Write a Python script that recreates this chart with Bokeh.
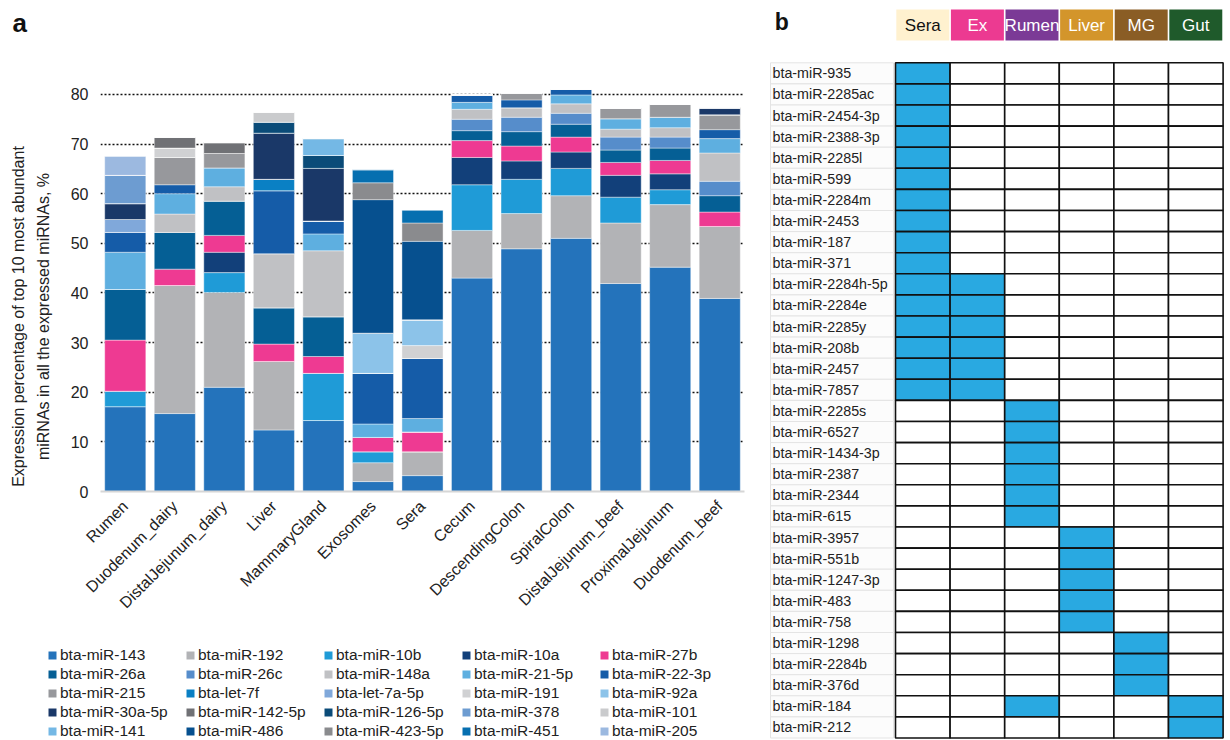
from math import pi
from bokeh.plotting import figure
from bokeh.models import (ColumnDataSource, Range1d, FactorRange, FixedTicker,
                          Label, Legend, LegendItem)
from bokeh.layouts import row, column
from bokeh.embed import file_html
from bokeh.resources import INLINE
from bokeh.core.properties import value

FONT = "Liberation Sans"

# ---------------- panel a data ----------------
tissues = ["Rumen", "Duodenum_dairy", "DistalJejunum_dairy", "Liver", "MammaryGland",
           "Exosomes", "Sera", "Cecum", "DescendingColon", "SpiralColon",
           "DistalJejunum_beef", "ProximalJejunum", "Duodenum_beef"]

mirnas = ["bta-miR-143", "bta-miR-192", "bta-miR-10b", "bta-miR-10a", "bta-miR-27b",
          "bta-miR-26a", "bta-miR-26c", "bta-miR-148a", "bta-miR-21-5p", "bta-miR-22-3p",
          "bta-miR-215", "bta-let-7f", "bta-let-7a-5p", "bta-miR-191", "bta-miR-92a",
          "bta-miR-30a-5p", "bta-miR-142-5p", "bta-miR-126-5p", "bta-miR-378", "bta-miR-101",
          "bta-miR-141", "bta-miR-486", "bta-miR-423-5p", "bta-miR-451", "bta-miR-205"]

mirna_colors = ["#2473BB", "#B2B3B6", "#1F9BD7", "#12407A", "#EE3A92",
                "#055F95", "#568DCB", "#C0C1C4", "#5EAFE0", "#155CA8",
                "#97989C", "#0A80C4", "#80A8DA", "#D0D1D3", "#8CC3E9",
                "#1A3868", "#707175", "#0A4B78", "#6D9CD1", "#CACBCD",
                "#74B8E5", "#06508F", "#8A8B8E", "#066FB0", "#9CB9E0"]

# percentages, order of tissues above
v_143    = [17.1, 15.7, 21.0, 12.4, 14.3, 2.0, 3.2, 43.0, 48.9, 51.0, 41.9, 45.2, 38.9]
v_192    = [0, 25.8, 19.1, 13.8, 0, 3.8, 4.8, 9.6, 7.1, 8.6, 12.2, 12.6, 14.5]
v_10b    = [3.1, 0, 4.0, 0, 9.5, 2.2, 0, 9.2, 6.9, 5.5, 5.2, 3.0, 0]
v_10a    = [0, 0, 4.1, 0, 0, 0, 0, 5.5, 3.7, 3.3, 4.4, 3.2, 0]
v_27b    = [10.3, 3.3, 3.4, 3.5, 3.4, 2.9, 4.0, 3.4, 3.0, 3.0, 2.6, 2.7, 2.9]
v_26a    = [10.2, 7.4, 6.9, 7.3, 8.0, 0, 0, 2.0, 2.9, 2.6, 2.5, 2.5, 3.3]
v_26c    = [0, 0, 0, 0, 0, 0, 0, 2.3, 2.9, 2.2, 2.6, 2.2, 2.9]
v_148a   = [0, 3.7, 2.9, 10.9, 13.3, 0, 0, 2.0, 1.9, 1.9, 1.6, 1.9, 5.7]
v_21_5p  = [7.5, 4.1, 3.8, 0, 3.4, 2.7, 2.7, 1.4, 0, 1.8, 2.1, 2.1, 2.9]
v_22_3p  = [4.0, 1.8, 0, 12.7, 2.6, 10.2, 12.1, 1.5, 1.6, 1.1, 0, 0, 1.8]
v_215    = [0, 5.5, 2.9, 0, 0, 0, 0, 0, 1.4, 0, 2.1, 2.6, 3.0]
v_let7f  = [0, 0, 0, 2.3, 0, 0, 0, 0, 0, 0, 0, 0, 0]
v_let7a  = [2.6, 0, 0, 0, 0, 0, 0, 0, 0, 0, 0, 0, 0]
v_191    = [0, 1.9, 0, 0, 0, 0, 2.6, 0, 0, 0, 0, 0, 0]
v_92a    = [0, 0, 0, 0, 0, 8.1, 5.2, 0, 0, 0, 0, 0, 0]
v_30a_5p = [3.2, 0, 0, 9.3, 10.6, 0, 0, 0, 0, 0, 0, 0, 1.4]
v_142_5p = [0, 2.2, 2.2, 0, 0, 0, 0, 0, 0, 0, 0, 0, 0]
v_126_5p = [0, 0, 0, 2.2, 2.6, 0, 0, 0, 0, 0, 0, 0, 0]
v_378    = [5.7, 0, 0, 0, 0, 0, 0, 0, 0, 0, 0, 0, 0]
v_101    = [0, 0, 0, 2.0, 0, 0, 0, 0, 0, 0, 0, 0, 0]
v_141    = [0, 0, 0, 0, 3.4, 0, 0, 0, 0, 0, 0, 0, 0]
v_486    = [0, 0, 0, 0, 0, 26.9, 15.8, 0, 0, 0, 0, 0, 0]
v_423_5p = [0, 0, 0, 0, 0, 3.4, 3.7, 0, 0, 0, 0, 0, 0]
v_451    = [0, 0, 0, 0, 0, 2.6, 2.6, 0, 0, 0, 0, 0, 0]
v_205    = [3.8, 0, 0, 0, 0, 0, 0, 0, 0, 0, 0, 0, 0]

series = [v_143, v_192, v_10b, v_10a, v_27b, v_26a, v_26c, v_148a, v_21_5p, v_22_3p,
          v_215, v_let7f, v_let7a, v_191, v_92a, v_30a_5p, v_142_5p, v_126_5p, v_378,
          v_101, v_141, v_486, v_423_5p, v_451, v_205]

y_ticks = [0, 10, 20, 30, 40, 50, 60, 70, 80]
y_label_1 = "Expression percentage of top 10 most abundant"
y_label_2 = "miRNAs in all the expressed miRNAs, %"

# ---------------- panel b data ----------------
groups = ["Sera", "Ex", "Rumen", "Liver", "MG", "Gut"]
group_colors = ["#FFF1CF", "#EC3A91", "#7B3A96", "#D3952B", "#8A5D25", "#1F5A2B"]
group_text_colors = ["#111111", "#FFFFFF", "#FFFFFF", "#FFFFFF", "#FFFFFF", "#FFFFFF"]

specific = ["bta-miR-935", "bta-miR-2285ac", "bta-miR-2454-3p", "bta-miR-2388-3p",
            "bta-miR-2285l", "bta-miR-599", "bta-miR-2284m", "bta-miR-2453", "bta-miR-187",
            "bta-miR-371", "bta-miR-2284h-5p", "bta-miR-2284e", "bta-miR-2285y",
            "bta-miR-208b", "bta-miR-2457", "bta-miR-7857", "bta-miR-2285s", "bta-miR-6527",
            "bta-miR-1434-3p", "bta-miR-2387", "bta-miR-2344", "bta-miR-615", "bta-miR-3957",
            "bta-miR-551b", "bta-miR-1247-3p", "bta-miR-483", "bta-miR-758", "bta-miR-1298",
            "bta-miR-2284b", "bta-miR-376d", "bta-miR-184", "bta-miR-212"]

present_in = [["Sera"]] * 10 + [["Sera", "Ex"]] * 6 + [["Rumen"]] * 6 + \
             [["Liver"]] * 5 + [["MG"]] * 3 + [["Rumen", "Gut"], ["Gut"]]

src = {"tissue": tissues}
for name, vals in zip(mirnas, series):
    src[name] = vals
source = ColumnDataSource(src)

TOP_H = 621
LAB_W = 62

# ---------------- y label strip (left of panel a) ----------------
plab = figure(width=LAB_W, height=TOP_H, x_range=Range1d(0, LAB_W), y_range=Range1d(TOP_H, 0),
              output_backend="svg", toolbar_location=None, min_border=0)
plab.frame_align = False
plab.axis.visible = False
plab.grid.visible = False
plab.outline_line_color = None
for txt, xs in ((y_label_1, 18), (y_label_2, 43)):
    plab.add_layout(Label(x=xs, y=316, text=txt, angle=pi / 2, text_align="center",
                          text_baseline="alphabetic", text_font=FONT,
                          text_font_size="16px", text_color="#222222"))
plab.add_layout(Label(x=12, y=22.5, text="a", text_font=FONT, text_font_size="26px",
                      text_font_style="bold", text_color="#111111",
                      text_baseline="alphabetic"))

# ---------------- panel a figure ----------------
pa = figure(width=756 - LAB_W, height=TOP_H, x_range=FactorRange(*tissues),
            y_range=Range1d(0, 82), output_backend="svg", toolbar_location=None,
            min_border_left=100 - LAB_W, min_border_right=12, min_border_top=84,
            min_border_bottom=TOP_H - 84 - 407)
pa.frame_align = False
pa.outline_line_color = None
pa.background_fill_color = "white"

rends = pa.vbar_stack(mirnas, x="tissue", width=0.83, source=source, color=mirna_colors,
                      line_color="white", line_width=0.6, line_alpha=0.7)

pa.xgrid.grid_line_color = None
pa.ygrid.ticker = FixedTicker(ticks=y_ticks[1:])
pa.ygrid.grid_line_color = "#111111"
pa.ygrid.grid_line_dash = "2 2"
pa.ygrid.grid_line_width = 1.3

pa.yaxis.ticker = FixedTicker(ticks=y_ticks)
pa.yaxis.axis_line_color = None
pa.yaxis.major_tick_line_color = None
pa.yaxis.minor_tick_line_color = None
pa.yaxis.major_tick_out = 0
pa.yaxis.major_label_text_font = FONT
pa.yaxis.major_label_text_font_size = "16px"
pa.yaxis.major_label_text_color = "#222222"
pa.yaxis.major_label_standoff = 12

pa.xaxis.axis_line_color = "#D6D6D6"
pa.xaxis.axis_line_width = 2
pa.xaxis.major_tick_line_color = None
pa.xaxis.minor_tick_line_color = None
pa.xaxis.major_tick_out = 0
pa.xaxis.major_label_orientation = pi / 4
pa.xaxis.major_label_text_font = FONT
pa.xaxis.major_label_text_font_size = "16px"
pa.xaxis.major_label_text_color = "#222222"
pa.xaxis.major_label_standoff = 12

# ---------------- legend strip (under panel a) ----------------
LEG_H = 740 - TOP_H
LEG_TOP = 25
pleg = figure(width=756, height=LEG_H,
              x_range=FactorRange(*tissues, range_padding=0.5),
              y_range=Range1d(-1000, -999),
              output_backend="svg", toolbar_location=None,
              min_border_left=0, min_border_right=0, min_border_bottom=0,
              min_border_top=LEG_TOP)
pleg.frame_align = False
pleg.axis.visible = False
pleg.grid.visible = False
pleg.outline_line_color = None
# swatch renderers: zero-height bars far outside the strip's range,
# they only provide the legend swatches (the opaque legend box sits over them)
leg_rends = [pleg.vbar(x="tissue", top=name, bottom=name, width=0.2, source=source,
                       fill_color=col, line_color=None)
             for name, col in zip(mirnas, mirna_colors)]
legend = Legend(items=[LegendItem(label=m, renderers=[r]) for m, r in zip(mirnas, leg_rends)],
                ncols=5, orientation="horizontal", location=(47, 0),
                glyph_width=10, glyph_height=10, label_standoff=3, label_width=125,
                label_height=19, spacing=0, padding=0, margin=0,
                label_text_font=FONT, label_text_font_size="15.5px",
                label_text_color="#222222", border_line_color=None,
                background_fill_color="white", background_fill_alpha=1.0)
pleg.add_layout(legend)

# ---------------- panel b figure ----------------
nrow = len(specific)
COLW = 54.6
ROWH = 21.1
GX0, GY0 = 895 - 756, 62.3
PB_W = 1230 - 756
pb = figure(width=PB_W, height=740, x_range=Range1d(-GX0 / COLW, (PB_W - GX0) / COLW),
            y_range=Range1d((740 - GY0) / ROWH, -GY0 / ROWH),
            output_backend="svg", toolbar_location=None, min_border=0)
pb.frame_align = False
pb.axis.visible = False
pb.grid.visible = False
pb.outline_line_color = None

# label cells
lab_src = ColumnDataSource(dict(x=[-1.163] * nrow, y=[i + 0.5 for i in range(nrow)], text=specific))
pb.rect(x="x", y="y", width=2.252, height=1, source=lab_src, fill_color="#FCFCFC",
        line_color="#E4E4E4", line_width=1)
pb.text(x=-2.253, y="y", text="text", source=lab_src, text_align="left",
        text_baseline="middle", text_font=value(FONT), text_font_size="14.3px",
        text_color="#222222")

# grid cells
cx, cy, cf = [], [], []
for i, groups_of_row in enumerate(present_in):
    for j, g in enumerate(groups):
        cx.append(j + 0.5)
        cy.append(i + 0.5)
        cf.append("#29A9E1" if g in groups_of_row else "white")
cell_src = ColumnDataSource(dict(x=cx, y=cy, fill=cf))
pb.rect(x="x", y="y", width=1, height=1, source=cell_src, fill_color="fill",
        line_color="#111111", line_width=1.6)

# header boxes
hdr_src = ColumnDataSource(dict(x=[j + 0.5 for j in range(len(groups))],
                                y=[-1.79] * len(groups), text=groups,
                                fill=group_colors, tc=group_text_colors))
pb.rect(x="x", y="y", width=0.97, height=1.47, source=hdr_src, fill_color="fill",
        line_color=None)
pb.text(x="x", y="y", text="text", source=hdr_src, text_align="center",
        text_baseline="middle", text_font=value(FONT), text_font_size="17px",
        text_color="tc")

pb.add_layout(Label(x=-2.21, y=-1.957, text="b", text_font=FONT, text_font_size="23px",
                    text_font_style="bold", text_color="#111111",
                    text_baseline="alphabetic"))

layout = row(column(row(plab, pa, spacing=0), pleg, spacing=0), pb, spacing=0)
open("out.html", "w").write(file_html(layout, INLINE))
